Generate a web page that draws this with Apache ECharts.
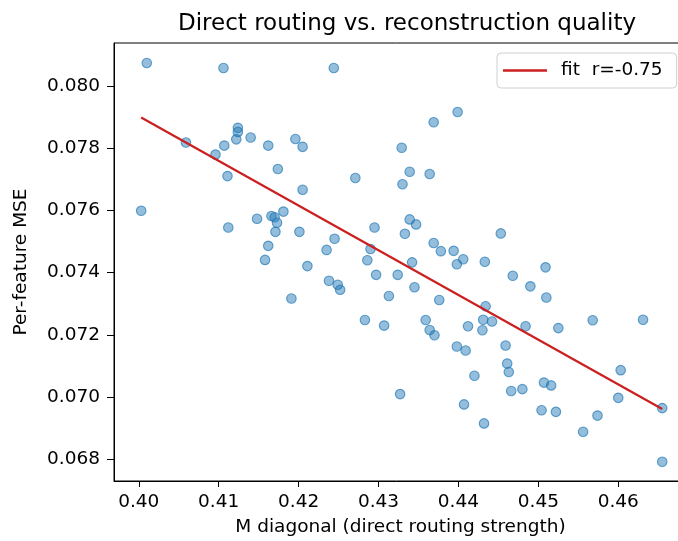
<!DOCTYPE html>
<html>
<head>
<meta charset="utf-8">
<script src="https://cdn.jsdelivr.net/npm/echarts@6/dist/echarts.min.js"></script>
<style>
  html, body { margin: 0; padding: 0; background: #fff; }
  #chart { width: 678px; height: 541px; }
</style>
</head>
<body>
<div id="chart"></div>
<script>
// M diagonal (x) per point
const mDiag = [
  0.4010, 0.4106, 0.4244, 0.4003, 0.4059, 0.4096, 0.4107, 0.4111, 0.4124, 0.4124,
  0.4122, 0.4140, 0.4162, 0.4174, 0.4196, 0.4205, 0.4399, 0.4369, 0.4329, 0.4271,
  0.4339, 0.4364, 0.4330, 0.4205, 0.4181, 0.4201, 0.4339, 0.4347, 0.4295, 0.4333,
  0.4245, 0.4235, 0.4290, 0.4369, 0.4378, 0.4394, 0.4406, 0.4398, 0.4286, 0.4342,
  0.4211, 0.4166, 0.4170, 0.4148, 0.4173, 0.4171, 0.4112, 0.4162, 0.4158, 0.4191,
  0.4238, 0.4249, 0.4252, 0.4297, 0.4324, 0.4313, 0.4345, 0.4376, 0.4283, 0.4307,
  0.4359, 0.4364, 0.4370, 0.4398, 0.4409, 0.4412, 0.4420, 0.4327, 0.4407, 0.4433,
  0.4509, 0.4468, 0.4490, 0.4510, 0.4434, 0.4431, 0.4442, 0.4430, 0.4484, 0.4525,
  0.4568, 0.4631, 0.4459, 0.4461, 0.4463, 0.4466, 0.4480, 0.4507, 0.4516, 0.4603,
  0.4600, 0.4655, 0.4504, 0.4522, 0.4574, 0.4556, 0.4432, 0.4655, 0.4453
]
// per-feature MSE (y) per point
const mse = [
  0.08073, 0.08057, 0.08057, 0.07599, 0.07818, 0.07779, 0.07808, 0.07710, 0.07865, 0.07852,
  0.07828, 0.07834, 0.07808, 0.07733, 0.07829, 0.07804, 0.07916, 0.07883, 0.07801, 0.07704,
  0.07724, 0.07717, 0.07684, 0.07666, 0.07596, 0.07531, 0.07571, 0.07555, 0.07545, 0.07525,
  0.07509, 0.07473, 0.07476, 0.07495, 0.07469, 0.07470, 0.07443, 0.07427, 0.07440, 0.07433,
  0.07421, 0.07582, 0.07578, 0.07573, 0.07560, 0.07531, 0.07545, 0.07486, 0.07441, 0.07317,
  0.07374, 0.07361, 0.07345, 0.07393, 0.07393, 0.07325, 0.07353, 0.07312, 0.07248, 0.07230,
  0.07248, 0.07216, 0.07199, 0.07163, 0.07150, 0.07228, 0.07069, 0.07010, 0.06977, 0.07435,
  0.07417, 0.07390, 0.07356, 0.07320, 0.07292, 0.07249, 0.07243, 0.07215, 0.07228, 0.07222,
  0.07247, 0.07249, 0.07166, 0.07108, 0.07081, 0.07020, 0.07026, 0.07047, 0.07038, 0.07087,
  0.06998, 0.06965, 0.06958, 0.06953, 0.06941, 0.06889, 0.06916, 0.06793, 0.07526
]
// fit line end points
const fitX = [0.4003, 0.4655]
const fitY = [0.07898, 0.06962]
const fitName = 'fit  r=-0.75'

const xTicks = [0.40, 0.41, 0.42, 0.43, 0.44, 0.45, 0.46]
const yTicks = [0.068, 0.070, 0.072, 0.074, 0.076, 0.078, 0.080]

const font = 'DejaVu Sans'
const chart = echarts.init(document.getElementById('chart'), null, { renderer: 'canvas' })

const points = mDiag.map((x, i) => [x, mse[i]])
const fitLine = fitX.map((x, i) => [x, fitY[i]])

const option = {
  animation: false,
  backgroundColor: '#fff',
  title: {
    text: 'Direct routing vs. reconstruction quality',
    left: 402,
    textAlign: 'center',
    top: 8,
    textStyle: { fontFamily: font, fontSize: 23, fontWeight: 'normal', color: '#000' }
  },
  grid: {
    left: 114, top: 43, width: 573, height: 438,
    outerBoundsMode: 'none',
    containLabel: false,
    show: true, borderColor: '#000', borderWidth: 1, backgroundColor: '#fff'
  },
  legend: {
    data: [fitName],
    left: 497, top: 53,
    padding: [8, 14, 8, 6],
    icon: 'rect',
    itemWidth: 44, itemHeight: 2.5,
    borderColor: '#d0d0d0', borderWidth: 1, borderRadius: 4,
    backgroundColor: 'rgba(255,255,255,0.85)',
    textStyle: { fontFamily: font, fontSize: 18.5, color: '#000', padding: [0, 0, 0, 9] }
  },
  xAxis: {
    type: 'value',
    min: 0.3969, max: 0.4686,
    name: 'M diagonal (direct routing strength)',
    nameLocation: 'middle',
    nameGap: 37,
    nameTextStyle: { fontFamily: font, fontSize: 18.5, color: '#000' },
    axisLine: { show: true, lineStyle: { color: '#000', width: 1 } },
    axisTick: { show: true, length: 6, customValues: xTicks, lineStyle: { color: '#000' } },
    axisLabel: {
      customValues: xTicks, margin: 12,
      fontFamily: font, fontSize: 18.5, color: '#000',
      formatter: v => v.toFixed(2)
    },
    splitLine: { show: false }
  },
  yAxis: {
    type: 'value',
    min: 0.06731, max: 0.081374,
    name: 'Per-feature MSE',
    nameLocation: 'middle',
    nameGap: 83,
    nameTextStyle: { fontFamily: font, fontSize: 18.5, color: '#000' },
    axisLine: { show: true, lineStyle: { color: '#000', width: 1 } },
    axisTick: { show: true, length: 7, customValues: yTicks, lineStyle: { color: '#000' } },
    axisLabel: {
      customValues: yTicks, margin: 14,
      fontFamily: font, fontSize: 18.5, color: '#000',
      formatter: v => v.toFixed(3)
    },
    splitLine: { show: false }
  },
  series: [
    {
      type: 'scatter',
      data: points,
      symbolSize: 9.5,
      itemStyle: {
        color: 'rgba(31,119,180,0.6)',
        borderColor: 'rgba(31,119,180,0.85)',
        borderWidth: 1.1
      },
      z: 2
    },
    {
      name: fitName,
      type: 'line',
      data: fitLine,
      showSymbol: false,
      symbol: 'none',
      lineStyle: { color: '#cc1f1f', width: 2.2 },
      itemStyle: { color: '#cc1f1f' },
      z: 3
    }
  ]
}
chart.setOption(option)
</script>
</body>
</html>
